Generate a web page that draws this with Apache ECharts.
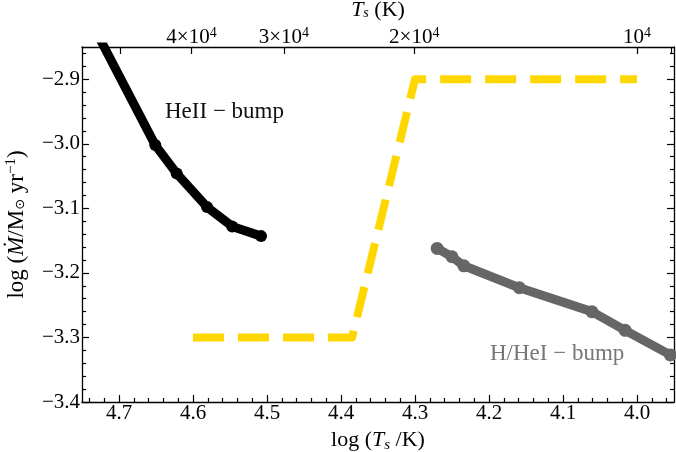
<!DOCTYPE html>
<html><head><meta charset="utf-8">
<script src="https://cdn.jsdelivr.net/npm/echarts@6/dist/echarts.min.js"></script>
<style>html,body{margin:0;padding:0;background:#fff}#c{width:676px;height:452px}</style>
</head><body><div id="c"></div>
<script>
// ---- data ----
const heIIx = [4.76, 4.651, 4.622, 4.581, 4.547, 4.508];
const heIIy = [-2.762, -3.002, -3.046, -3.098, -3.128, -3.143];
const hHeIx = [4.270, 4.250, 4.234, 4.159, 4.061, 4.016, 3.955];
const hHeIy = [-3.162, -3.175, -3.189, -3.223, -3.260, -3.289, -3.327];
const stepX = [4.60, 4.385, 4.30, 4.00];
const stepY = [-3.30, -3.30, -2.90, -2.90];
// ---- ticks ----
const xTicks = [4.0, 4.1, 4.2, 4.3, 4.4, 4.5, 4.6, 4.7];
const xMinor = [3.96, 3.98, 4.02, 4.04, 4.06, 4.08, 4.12, 4.14, 4.16, 4.18, 4.22, 4.24, 4.26, 4.28,
  4.32, 4.34, 4.36, 4.38, 4.42, 4.44, 4.46, 4.48, 4.52, 4.54, 4.56, 4.58, 4.62, 4.64, 4.66, 4.68, 4.72, 4.74];
const yTicks = [-3.4, -3.3, -3.2, -3.1, -3.0, -2.9];
const yMinor = [-3.38, -3.36, -3.34, -3.32, -3.28, -3.26, -3.24, -3.22, -3.18, -3.16, -3.14, -3.12,
  -3.08, -3.06, -3.04, -3.02, -2.98, -2.96, -2.94, -2.92, -2.88, -2.86];
const topTicksK = [50000, 40000, 30000, 20000, 10000, 9000];
const topLabelK = [40000, 30000, 20000, 10000];
const topLabelText = ['{a|4×10}{s|4}', '{a|3×10}{s|4}', '{a|2×10}{s|4}', '{a|10}{s|4}'];

const FF = '"Liberation Serif", "DejaVu Serif", serif';
const XR = [3.95, 4.75], YR = [-3.4, -2.85];
const minus = s => s.replace('-', '\u2212');
const NF = 23;
const richBase = {
  n: {fontFamily: FF, fontSize: NF, color: '#000'},
  i: {fontFamily: FF, fontSize: NF, color: '#000', fontStyle: 'italic'},
  sub: {fontFamily: FF, fontSize: 15, color: '#000', fontStyle: 'italic', padding: [10, 0, 0, 0]},
  sup: {fontFamily: FF, fontSize: 15, color: '#000', padding: [0, 0, 10, 0]},
  o: {fontFamily: 'DejaVu Sans', fontSize: 13, color: '#000', padding: [8, 0, 0, 0]}
};
function xData(xs, ys) { return xs.map((x, k) => [x, ys[k]]); }

const chart = echarts.init(document.getElementById('c'), null, {renderer: 'canvas'});
const lineW = {color: '#000', width: 1.2};
const baseX = {type: 'value', min: XR[0], max: XR[1], inverse: true, splitLine: {show: false}, gridIndex: 0};
const baseY = {type: 'value', min: YR[0], max: YR[1], splitLine: {show: false}, gridIndex: 0};

const topVals = topTicksK.map(k => Math.log10(k));
const topLabVals = topLabelK.map(k => Math.log10(k));
const TF = 21;

chart.setOption({
  animation: false,
  backgroundColor: '#fff',
  grid: {left: 82, right: 2, top: 47, bottom: 50, containLabel: false, outerBoundsMode: 'none'},
  xAxis: [
    Object.assign({}, baseX, {
      position: 'bottom',
      axisLine: {show: true, onZero: false, lineStyle: {color: '#000', width: 1.3}},
      axisTick: {show: true, inside: true, length: 7, customValues: xTicks, lineStyle: lineW},
      axisLabel: {customValues: xTicks, formatter: v => v.toFixed(1), fontFamily: FF, fontSize: TF, color: '#000', margin: 1},
      name: '{n|log (}{i|T}{sub|s}{n| /K)}', nameLocation: 'middle', nameGap: 25,
      nameTextStyle: {rich: Object.assign({}, richBase, {
        n: {fontFamily: FF, fontSize: 22, color: '#000'},
        i: {fontFamily: FF, fontSize: 22, color: '#000', fontStyle: 'italic'}
      })}
    }),
    Object.assign({}, baseX, {
      position: 'bottom',
      axisLine: {show: false, onZero: false},
      axisTick: {show: true, inside: true, length: 4, customValues: xMinor, lineStyle: lineW},
      axisLabel: {show: false}
    }),
    Object.assign({}, baseX, {
      position: 'top',
      axisLine: {show: true, onZero: false, lineStyle: {color: '#000', width: 1.3}},
      axisTick: {show: true, inside: true, length: 7, customValues: topVals, lineStyle: lineW},
      axisLabel: {
        customValues: topLabVals, margin: -2,
        formatter: v => {
          let best = 0;
          topLabVals.forEach((t, k) => { if (Math.abs(t - v) < Math.abs(topLabVals[best] - v)) best = k; });
          return topLabelText[best];
        },
        rich: {
          a: {fontFamily: FF, fontSize: TF, color: '#000'},
          s: {fontFamily: FF, fontSize: 14, color: '#000', padding: [0, 0, 9, 0]}
        }
      },
      name: '{i|T}{sub|s}{n| (K)}', nameLocation: 'middle', nameGap: 18,
      nameTextStyle: {rich: {
        n: {fontFamily: FF, fontSize: 22, color: '#000'},
        i: {fontFamily: FF, fontSize: 22, color: '#000', fontStyle: 'italic'},
        sub: {fontFamily: FF, fontSize: 14, color: '#000', fontStyle: 'italic', padding: [6, 0, 0, 0]}
      }}
    })
  ],
  yAxis: [
    Object.assign({}, baseY, {
      position: 'left',
      axisLine: {show: true, onZero: false, lineStyle: {color: '#000', width: 1.3}},
      axisTick: {show: true, inside: true, length: 7, customValues: yTicks, lineStyle: lineW},
      axisLabel: {customValues: yTicks, formatter: v => minus(v.toFixed(1)), fontFamily: FF, fontSize: TF, color: '#000', margin: 2},
      name: '{n|log (}{i|Ṁ}{n|/M}{o|⊙}{n| yr}{sup|−1}{n|)}', nameLocation: 'middle', nameGap: 53,
      nameTextStyle: {rich: richBase}
    }),
    Object.assign({}, baseY, {
      position: 'left',
      axisLine: {show: false, onZero: false},
      axisTick: {show: true, inside: true, length: 4, customValues: yMinor, lineStyle: lineW},
      axisLabel: {show: false}
    }),
    Object.assign({}, baseY, {
      position: 'right',
      axisLine: {show: true, onZero: false, lineStyle: {color: '#000', width: 1.3}},
      axisTick: {show: true, inside: true, length: 7, customValues: yTicks, lineStyle: lineW},
      axisLabel: {show: false}
    }),
    Object.assign({}, baseY, {
      position: 'right',
      axisLine: {show: false, onZero: false},
      axisTick: {show: true, inside: true, length: 4, customValues: yMinor, lineStyle: lineW},
      axisLabel: {show: false}
    })
  ],
  series: [
    {
      type: 'line', xAxisIndex: 0, yAxisIndex: 0, clip: true,
      data: xData(stepX, stepY), showSymbol: false, symbol: 'none',
      lineStyle: {color: '#FFD700', width: 8, type: [31, 14], cap: 'butt', join: 'round'}
    },
    {
      type: 'line', xAxisIndex: 0, yAxisIndex: 0, clip: true,
      data: xData(heIIx, heIIy).map((p, k) => k === 0 ? {value: p, symbol: 'none'} : p),
      symbol: 'circle', symbolSize: 12, showSymbol: true, showAllSymbol: true,
      itemStyle: {color: '#000'},
      lineStyle: {color: '#000', width: 9, cap: 'round', join: 'round'}
    },
    {
      type: 'line', xAxisIndex: 0, yAxisIndex: 0, clip: true,
      data: xData(hHeIx, hHeIy),
      symbol: 'circle', symbolSize: 13, showSymbol: true, showAllSymbol: true,
      itemStyle: {color: '#666666'},
      lineStyle: {color: '#666666', width: 9, cap: 'round', join: 'round'}
    }
  ],
  graphic: [
    {type: 'text', left: 165, top: 100, style: {text: 'HeII − bump', fontFamily: FF, fontSize: 23, fill: '#111'}},
    {type: 'text', left: 490, top: 342, style: {text: 'H/HeI − bump', fontFamily: FF, fontSize: 23, fill: '#777'}}
  ]
});
</script>
</body></html>
